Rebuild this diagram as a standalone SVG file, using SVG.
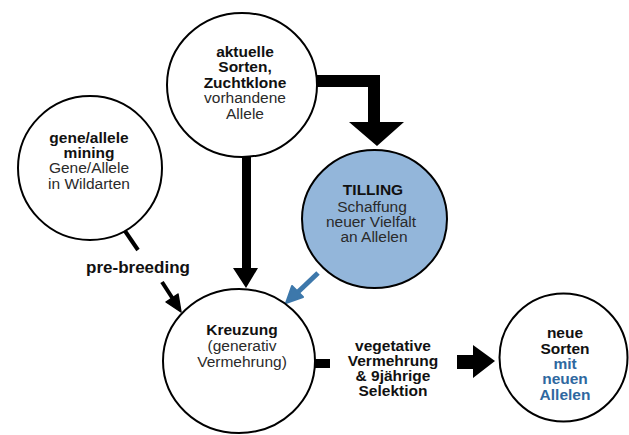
<svg xmlns="http://www.w3.org/2000/svg" width="629" height="435" viewBox="0 0 629 435">
<style>
.node{fill:#fff;stroke:#000;stroke-width:2}
.till{fill:#93b6da;stroke:#000;stroke-width:2}
text{font-family:"Liberation Sans",Arial,Helvetica,sans-serif;font-size:15.5px;text-anchor:middle}
.b{font-weight:bold;fill:#111}
.r{fill:#2a2a2a}
.bl{font-weight:bold;fill:#2f68a0}
.lbl{font-weight:bold;fill:#111}
</style>
<rect width="629" height="435" fill="#fff"/>
<g id="connectors">
  <path d="M315 75 H380 V122 H404 L377 146 L349 122 H368 V87 H315 Z" fill="#000"/>
  <path d="M242 157 H251 V268 H258 L246 288 L233 268 H242 Z" fill="#000"/>
  <line x1="318" y1="273" x2="298" y2="292" stroke="#3d78ab" stroke-width="5"/>
  <path d="M286 303 L292 286 L303 297 Z" fill="#3d78ab" stroke="#3d78ab" stroke-width="2" stroke-linejoin="round"/>
  <line x1="125" y1="231" x2="138" y2="250" stroke="#000" stroke-width="4"/>
  <line x1="162" y1="282" x2="173" y2="299" stroke="#000" stroke-width="4"/>
  <path d="M181 312 L166 302 L178 294 Z" fill="#000" stroke="#000" stroke-width="1.5" stroke-linejoin="round"/>
  <rect x="315" y="359" width="15" height="9" fill="#000"/>
  <path d="M457 355 H473 V345 L495 361 L473 378 V369 H457 Z" fill="#000"/>
</g>
<g id="node-aktuelle">
  <ellipse class="node" cx="242" cy="85" rx="75" ry="72"/>
  <text class="b" x="245" y="57">aktuelle</text>
  <text class="b" x="245" y="72">Sorten,</text>
  <text class="b" x="245" y="87.5">Zuchtklone</text>
  <text class="r" x="245" y="103">vorhandene</text>
  <text class="r" x="245" y="118.5">Allele</text>
</g>
<g id="node-gene">
  <circle class="node" cx="90" cy="168" r="72"/>
  <text class="b" x="89" y="142.5">gene/allele</text>
  <text class="b" x="89" y="157.5">mining</text>
  <text class="r" x="89" y="173">Gene/Allele</text>
  <text class="r" x="89" y="188.5">in Wildarten</text>
</g>
<g id="node-tilling">
  <ellipse class="till" cx="374.5" cy="219" rx="72.5" ry="69"/>
  <text class="b" x="373" y="195">TILLING</text>
  <text class="r" x="372" y="211.5">Schaffung</text>
  <text class="r" x="371" y="227">neuer Vielfalt</text>
  <text class="r" x="374" y="242">an Allelen</text>
</g>
<g id="node-kreuzung">
  <ellipse class="node" cx="239" cy="361" rx="76" ry="72"/>
  <text class="b" x="242" y="335">Kreuzung</text>
  <text class="r" x="242" y="351">(generativ</text>
  <text class="r" x="242" y="366.5">Vermehrung)</text>
</g>
<g id="node-neue">
  <circle class="node" cx="563.5" cy="357.5" r="64"/>
  <text class="b" x="565" y="338">neue</text>
  <text class="b" x="565" y="353.5">Sorten</text>
  <text class="bl" x="565" y="368.5">mit</text>
  <text class="bl" x="565" y="384">neuen</text>
  <text class="bl" x="565" y="399.5">Allelen</text>
</g>
<g id="labels">
  <text class="lbl" x="138" y="273" style="font-size:17px">pre-breeding</text>
  <text class="lbl" x="393" y="351">vegetative</text>
  <text class="lbl" x="393" y="366">Vermehrung</text>
  <text class="lbl" x="393" y="381">&amp; 9jährige</text>
  <text class="lbl" x="393" y="396">Selektion</text>
</g>
</svg>
